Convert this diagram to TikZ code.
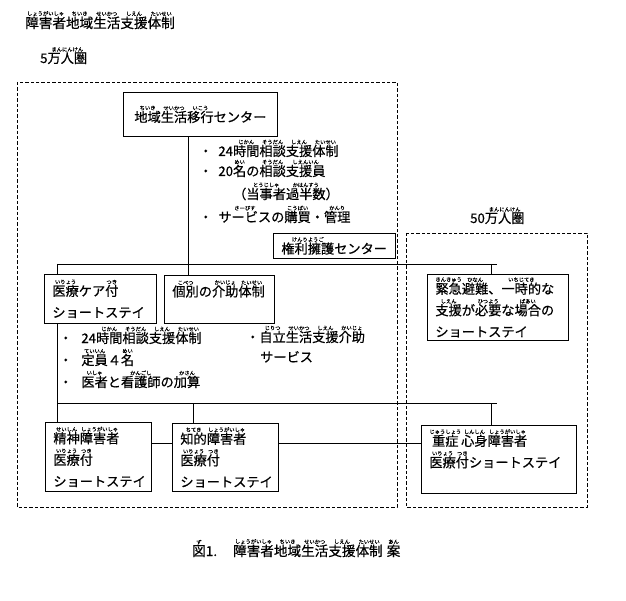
\documentclass[tikz,border=0pt]{standalone}
\usepackage{fontspec}
\setmainfont[FakeBold=0.6]{Noto Sans CJK JP}

\newcommand{\rubyfont}{\fontsize{5.3pt}{5.3pt}\selectfont}
\newcommand{\rb}[2]{\leavevmode\vbox{\offinterlineskip\halign{\hfil##\hfil\cr\rubyfont #2\cr\noalign{\kern0.6pt}#1\cr}}}

\tikzset{
  every node/.style={font=\fontsize{13.2pt}{21.5pt}\selectfont},
  head/.style={anchor=base west, inner sep=0pt, font=\fontsize{13.6pt}{20pt}\selectfont},
  txt/.style={anchor=base west, inner sep=0pt},
  box/.style={draw, line width=0.8pt, anchor=north west, align=left, inner xsep=8pt, inner ysep=0pt},
  region/.style={dash pattern=on 3.4pt off 2pt, line width=0.7pt},
  link/.style={line width=0.8pt}
}

\begin{document}
\begin{tikzpicture}[x=1pt,y=-1pt]
\useasboundingbox (0,0) rectangle (626,601);

\draw[region] (17,82) rectangle (397,507);
\draw[region] (406,233) rectangle (587,507);

\node[head] (title) at (25,28) {\rb{障害者}{しょうがいしゃ}\rb{地域}{ちいき}\rb{生活}{せいかつ}\rb{支援}{しえん}\rb{体制}{たいせい}};
\node[txt] (area5) at (40,63) {5\rb{万人圏}{まんにんけん}};
\node[txt] (area50) at (470,223) {50\rb{万人圏}{まんにんけん}};

\node[box, minimum width=154pt, minimum height=44pt] (chiiki) at (123,92) {\rb{地域}{ちいき}\rb{生活}{せいかつ}\rb{移行}{いこう}センター};

\node[txt] (c1) at (199,156) {・\hspace{6pt}24\rb{時間}{じかん}\rb{相談}{そうだん}\rb{支援}{しえん}\rb{体制}{たいせい}};
\node[txt] (c2) at (199,176) {・\hspace{6pt}20\rb{名}{めい}の\rb{相談}{そうだん}\rb{支援員}{しえんいん}};
\node[txt] (c3) at (233,199) {（\rb{当事者}{とうじしゃ}\rb{過半数}{かはんすう}）};
\node[txt] (c4) at (199,222) {・\hspace{6pt}\rb{サービス}{さーびす}の\rb{購買}{こうばい}・\rb{管理}{かんり}};

\node[box, minimum width=120pt, minimum height=25pt] (kenri) at (273,233) {\rb{権利擁護}{けんりようご}センター};

\node[box, text width=96pt, minimum height=49pt] (iryo) at (44,274) {\rb{医療}{いりょう}ケア\rb{付}{つき}\\ショートステイ};
\node[box, text width=94pt, minimum height=48pt] (kobetsu) at (164,275) {\rb{個別}{こべつ}の\rb{介助}{かいじょ}\rb{体制}{たいせい}\\\phantom{あ}};
\node[box, text width=125pt, minimum height=66pt] (kinkyu) at (427,274) {\rb{緊急}{きんきゅう}\rb{避難}{ひなん}、\rb{一時的}{いちじてき}な\\\rb{支援}{しえん}が\rb{必要}{ひつよう}な\rb{場合}{ばあい}の\\ショートステイ};

\node[txt] (i1) at (59,343) {・\hspace{9pt}24\rb{時間}{じかん}\rb{相談}{そうだん}\rb{支援}{しえん}\rb{体制}{たいせい}};
\node[txt] (i2) at (59,365) {・\hspace{9pt}\rb{定員}{ていいん}４\rb{名}{めい}};
\node[txt] (i3) at (59,387) {・\hspace{9pt}\rb{医者}{いしゃ}と\rb{看護師}{かんごし}の\rb{加算}{かさん}};

\node[txt] (k1) at (246,342) {・\rb{自立}{じりつ}\rb{生活}{せいかつ}\rb{支援}{しえん}\rb{介助}{かいじょ}};
\node[txt] (k2) at (260,362) {サービス};

\node[box, text width=90pt, minimum height=69pt] (seishin) at (45,422) {\rb{精神}{せいしん}\rb{障害者}{しょうがいしゃ}\\\rb{医療}{いりょう}\rb{付}{つき}\\ショートステイ};
\node[box, text width=90pt, minimum height=68pt] (chiteki) at (172,423) {\rb{知的}{ちてき}\rb{障害者}{しょうがいしゃ}\\\rb{医療}{いりょう}\rb{付}{つき}\\ショートステイ};
\node[box, text width=139pt, minimum height=68pt] (jusho) at (421,425) {\rb{重症}{じゅうしょう}\rb{心身}{しんしん}\rb{障害者}{しょうがいしゃ}\\\rb{医療}{いりょう}\rb{付}{つき}ショートステイ\\\phantom{あ}};

\node[head] (caption) at (192,556) {\rb{図}{ず}1.\hspace{16pt}\rb{障害者}{しょうがいしゃ}\rb{地域}{ちいき}\rb{生活}{せいかつ}\rb{支援}{しえん}\rb{体制}{たいせい}\hspace{4pt}\rb{案}{あん}};

\coordinate (a1) at (57,264);
\coordinate (a2) at (188,264);
\coordinate (a3) at (491,264);
\coordinate (a4) at (497,264);
\coordinate (b1) at (57,403);
\coordinate (b2) at (193,403);
\coordinate (b3) at (491,403);
\coordinate (b4) at (497,403);
\coordinate (m) at (0,443);

\draw[link] (a1) -- (a4);
\draw[link] (chiiki.south -| a2) -- (kobetsu.north -| a2);
\draw[link] (a1) -- (iryo.north -| a1);
\draw[link] (iryo.south -| a1) -- (b1);
\draw[link] (a3) -- (kinkyu.north -| a3);

\draw[link] (b1) -- (b4);
\draw[link] (b1) -- (seishin.north -| b1);
\draw[link] (b2) -- (chiteki.north -| b2);
\draw[link] (b3) -- (jusho.north -| b3);

\draw[link] (seishin.east |- m) -- (chiteki.west |- m);
\draw[link] (chiteki.east |- m) -- (jusho.west |- m);
\end{tikzpicture}
\end{document}
